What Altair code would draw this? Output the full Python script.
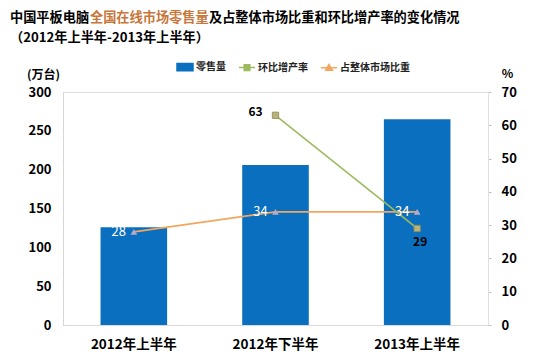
import altair as alt
import pandas as pd

# ---- data ----
periods = ["2012年上半年", "2012年下半年", "2013年上半年"]
sales = [126, 206, 265]                      # 零售量 (万台)
growth_periods = ["2012年下半年", "2013年上半年"]
growth = [63, 29]                            # 环比增产率 (%)
share = [28, 34, 34]                         # 占整体市场比重 (%)
series_names = ["零售量", "环比增产率", "占整体市场比重"]
left_ticks = [0, 50, 100, 150, 200, 250, 300]
right_ticks = [0, 10, 20, 30, 40, 50, 60, 70]
title_parts = ["中国平板电脑", "全国在线市场零售量", "及占整体市场比重和环比增产率的变化情况"]
subtitle = "（2012年上半年-2013年上半年）"

FONT = "Noto Sans CJK SC"
series_colors = ["#0b6fc0", "#9cbb5e", "#f2a65e"]
legend_paths = [
    "M-1,-0.45H1V0.45H-1Z",
    "M-1,0H1M-0.35,-0.35H0.35V0.35H-0.35Z",
    "M-1,0H1M0,-0.4L0.42,0.32H-0.42Z",
]

bar_df = pd.DataFrame({"period": periods, "value": sales, "series": series_names[0]})
growth_df = pd.DataFrame({"period": growth_periods, "value": growth})
share_df = pd.DataFrame({"period": periods, "value": share})

x_enc = alt.X(
    "period:N",
    scale=alt.Scale(domain=periods, paddingInner=0.53, paddingOuter=0.265),
    axis=alt.Axis(title=None, labelAngle=0, labelFontSize=13.5, labelFontWeight="bold",
                  labelColor="#000", labelPadding=12, ticks=False, tickSize=0,
                  domainColor="#d9d9d9", grid=False, labelFont=FONT),
)

shape_signal = (
    f"datum.value === '{series_names[0]}' ? '{legend_paths[0]}' : "
    f"(datum.value === '{series_names[1]}' ? '{legend_paths[1]}' : '{legend_paths[2]}')"
)

legend = alt.Legend(
    title=None, orient="none", legendX=113, legendY=-34, direction="horizontal",
    labelFontSize=10, labelFontWeight="bold", labelColor="#222", labelFont=FONT,
    symbolSize=256, labelOffset=2, columnPadding=10,
    symbolType={"expr": shape_signal},
    symbolStrokeColor={"expr": "scale('color', datum.value)"},
    symbolFillColor={"expr": "scale('color', datum.value)"},
    symbolStrokeWidth=1.5, symbolOpacity=1,
)

y_left = alt.Y(
    "value:Q",
    scale=alt.Scale(domain=[0, 300]),
    axis=alt.Axis(orient="left", values=left_ticks, title="(万台)", titleAngle=0,
                  titleX=-20, titleY=-18, titleAlign="center", titleBaseline="middle",
                  titleFontSize=12, titleFontWeight="bold", titleFont=FONT,
                  labelFontSize=13, labelFontWeight="bold", labelColor="#000",
                  labelPadding=12, ticks=False, tickSize=0, domainColor="#cfcfcf",
                  domainDash=[2, 2], grid=False, labelFont=FONT),
)

bars = alt.Chart(bar_df).mark_bar().encode(
    x=x_enc,
    y=y_left,
    color=alt.Color("series:N", scale=alt.Scale(domain=series_names, range=series_colors),
                    legend=legend),
)

def title_text(text, x, y, color="#000"):
    return alt.Chart(pd.DataFrame({"t": [text]})).mark_text(
        align="left", baseline="middle", fontSize=13.2, fontWeight="bold",
        font=FONT, color=color,
    ).encode(text="t:N", x=alt.value(x), y=alt.value(y))

t1 = title_text(title_parts[0], -53, -74)
t2 = title_text(title_parts[1], 27, -74, "#c8763a")
t3 = title_text(title_parts[2], 146, -74)
t4 = title_text(subtitle, -53, -54)

left_group = alt.layer(bars, t1, t2, t3, t4)

y_right = alt.Y(
    "value:Q",
    scale=alt.Scale(domain=[0, 70]),
    axis=alt.Axis(orient="right", values=right_ticks, title="%", titleAngle=0,
                  titleX=19, titleY=-19, titleAlign="center", titleBaseline="middle",
                  titleFontSize=12, titleFontWeight="bold", titleFont=FONT,
                  labelFontSize=13, labelFontWeight="bold", labelColor="#000",
                  labelPadding=10, tickSize=3, tickColor="#bfbfbf",
                  domainColor="#e0e0e0", grid=False, labelFont=FONT),
)

share_line = alt.Chart(share_df).mark_line(color=series_colors[2], strokeWidth=1.8).encode(
    x=x_enc, y=y_right)
share_pts = alt.Chart(share_df).mark_point(
    shape="triangle-up", filled=True, color="#b3abc9", size=45, opacity=1
).encode(x=x_enc, y=y_right)
share_lbl = alt.Chart(share_df).mark_text(
    color="white", fontSize=13, font=FONT, dx=-15, align="center", baseline="middle"
).encode(x=x_enc, y=y_right, text="value:Q")

growth_line = alt.Chart(growth_df).mark_line(color=series_colors[1], strokeWidth=1.6).encode(
    x=x_enc, y=y_right)
growth_pts = alt.Chart(growth_df).mark_point(
    shape="square", filled=True, fill="#b7b37a", stroke="#8e8c55", strokeWidth=0.8,
    size=40, opacity=1
).encode(x=x_enc, y=y_right)
growth_lbl_a = alt.Chart(growth_df).transform_filter(
    alt.datum.period == growth_periods[0]
).mark_text(color="#000", fontSize=12, fontWeight="bold", font=FONT, dx=-20, dy=-3,
            align="center", baseline="middle").encode(x=x_enc, y=y_right, text="value:Q")
growth_lbl_b = alt.Chart(growth_df).transform_filter(
    alt.datum.period == growth_periods[1]
).mark_text(color="#000", fontSize=12, fontWeight="bold", font=FONT, dx=3, dy=14,
            align="center", baseline="middle").encode(x=x_enc, y=y_right, text="value:Q")

right_group = alt.layer(share_line, growth_line, share_pts, growth_pts,
                        share_lbl, growth_lbl_a, growth_lbl_b)

chart = alt.layer(left_group, right_group).resolve_scale(y="independent").properties(
    width=425, height=233,
    autosize=alt.AutoSizeParams(type="none"),
    padding={"left": 55, "top": 84, "right": 48, "bottom": 31},
    background="white",
).configure_view(strokeWidth=0).configure(font=FONT)

chart.save("out.html", embed_options={"renderer": "svg", "actions": False})
